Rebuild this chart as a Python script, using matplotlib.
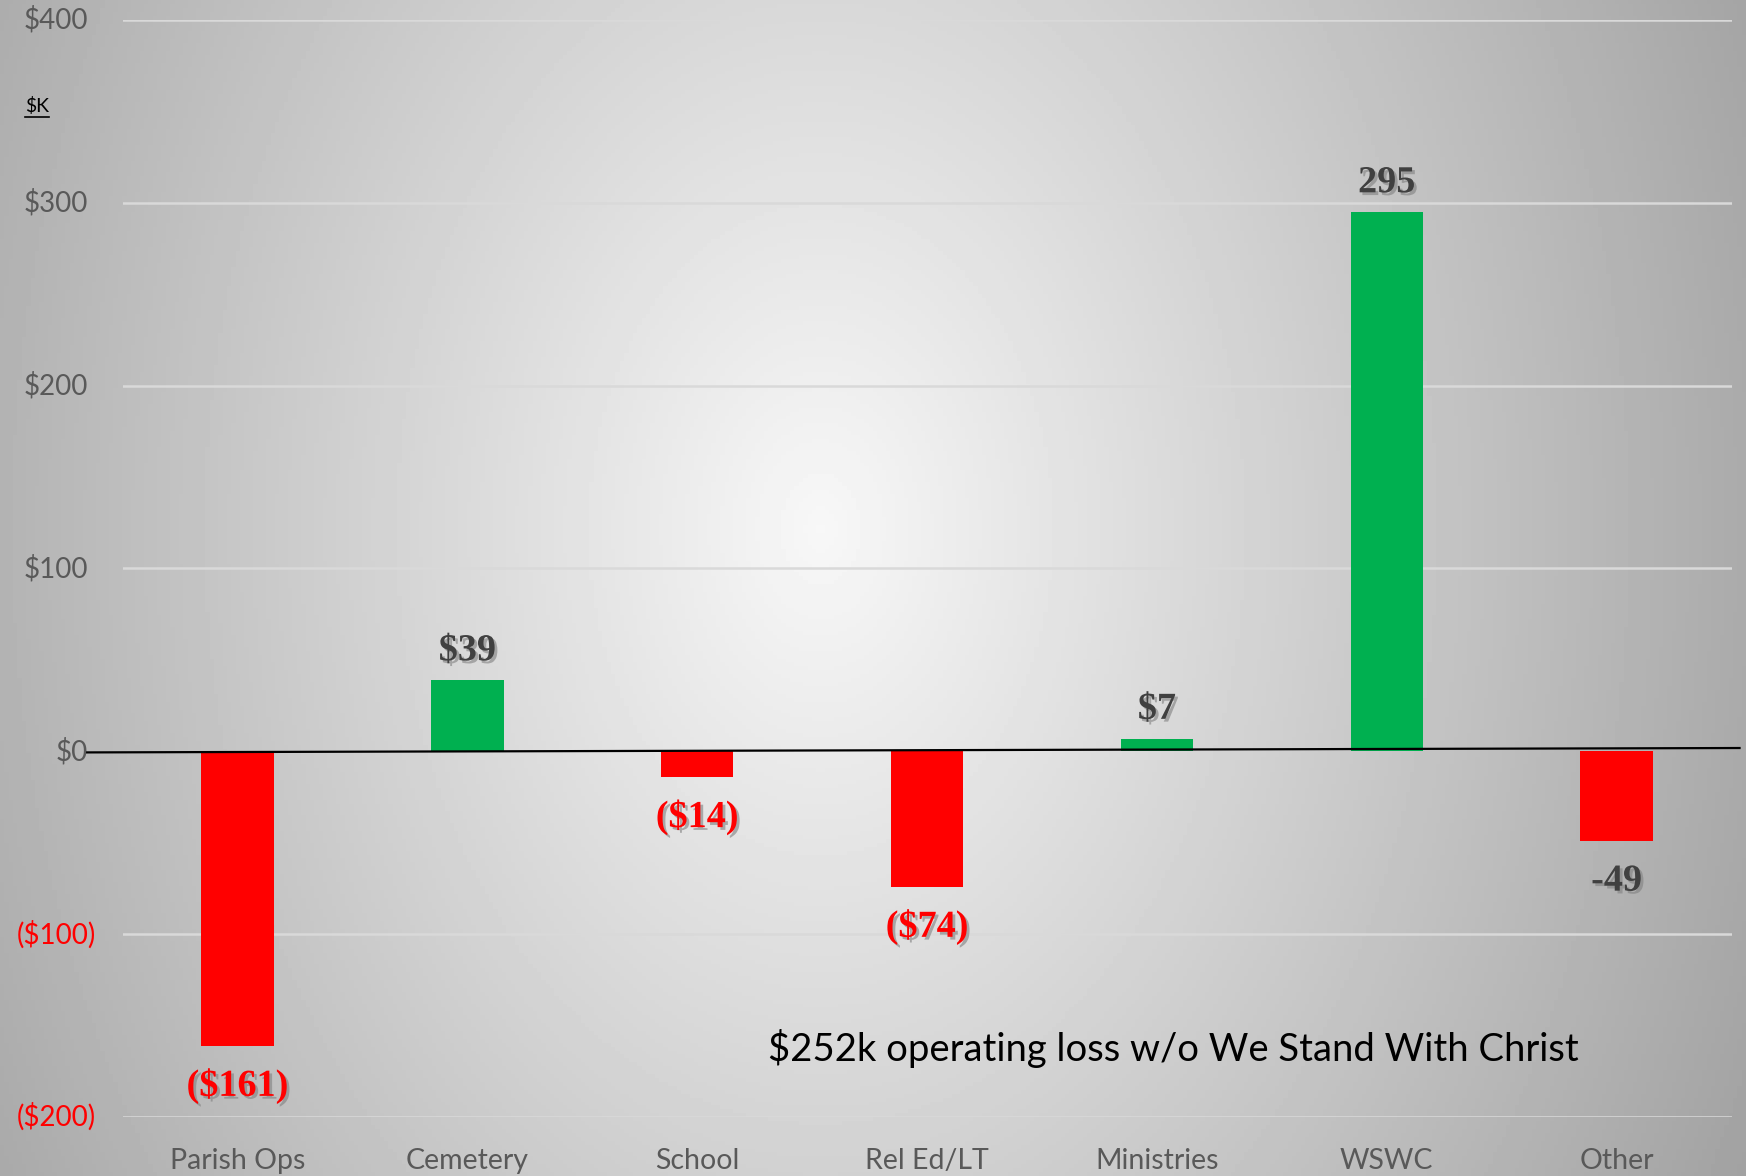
import numpy as np
import matplotlib.pyplot as plt
import matplotlib.patheffects as pe
from matplotlib.lines import Line2D

# Operating results by area ($K)
categories = ['Parish Ops', 'Cemetery', 'School', 'Rel Ed/LT', 'Ministries', 'WSWC', 'Other']
values = [-161, 39, -14, -74, 7, 295, -49]
value_labels = ['($161)', '$39', '($14)', '($74)', '$7', '295', '-49']
ytick_vals = [-200, -100, 0, 100, 200, 300, 400]
ytick_labels = ['($200)', '($100)', '$0', '$100', '$200', '$300', '$400']

GREEN = '#00B050'
RED = '#FF0000'
GRAY_TXT = '#595959'
LABEL_TXT = '#404040'

plt.rcParams['font.family'] = ['Lato', 'DejaVu Sans']

fig = plt.figure(figsize=(17.46, 11.76), dpi=100)

# radial grey background
bg = fig.add_axes([0, 0, 1, 1], zorder=-5)
xx, yy = np.meshgrid(np.linspace(0, 1, 400), np.linspace(0, 1, 300))
r = np.sqrt(((xx - 0.47) / 0.6) ** 2 + ((yy - 0.45) / 1.25) ** 2)
shade = np.clip(0.97 - 0.34 * r, 0.55, 1.0)
bg.imshow(shade, cmap='gray', vmin=0, vmax=1, aspect='auto', extent=[0, 1, 1, 0])
bg.axis('off')

ax = fig.add_axes([0.0702, 0.0502, 0.9917 - 0.0702, 0.983 - 0.0502])
ax.set_facecolor('none')

x = np.arange(len(categories))
colors = [GREEN if v >= 0 else RED for v in values]
ax.bar(x, values, width=0.315, color=colors, zorder=3)

ax.set_xlim(-0.5, 6.5)
ax.set_ylim(-200, 400)

# grid lines
for yv in ytick_vals:
    if yv != 0:
        ax.axhline(yv, color='#d9d9d9', lw=1.8, zorder=1)
ax.add_line(Line2D([-0.022, 1.005], [1 / 3 - 0.001, 1 / 3 + 0.003], transform=ax.transAxes,
                   color='black', lw=1.6, zorder=4, clip_on=False))

for s in ax.spines.values():
    s.set_visible(False)

# y labels drawn by hand so the bracketed ones sit a little further right
ax.set_yticks([])
ytrans = ax.get_yaxis_transform()
for yv, txt in zip(ytick_vals, ytick_labels):
    neg = yv < 0
    ax.annotate(txt, (0, yv), xycoords=ytrans, xytext=(-19 if neg else -25, 0),
                textcoords='offset points', ha='right', va='center', fontsize=20,
                color=RED if neg else GRAY_TXT, annotation_clip=False)

ax.set_xticks(x)
ax.set_xticklabels(categories, fontsize=20.5, color=GRAY_TXT)
ax.tick_params(axis='x', length=0, pad=22)

# value labels with shadow
shadow = [pe.withSimplePatchShadow(offset=(2, -2), shadow_rgbFace='#808080', alpha=0.6)]
for xi, v, txt in zip(x, values, value_labels):
    col = LABEL_TXT if (v >= 0 or txt.startswith('-')) else RED
    off = 21 if v >= 0 else -29
    ax.annotate(txt, (xi, v), xytext=(0, off), textcoords='offset points',
                ha='center', va='center', fontsize=27.5, fontweight='bold',
                family='Liberation Serif', color=col, path_effects=shadow, zorder=5)

# unit label
fig.text(0.0145, 0.910, '$K', fontsize=14, color='black', ha='left', va='center')
fig.add_artist(Line2D([0.0145, 0.0283], [0.9005, 0.9005], color='black', lw=1.2))

fig.text(0.44, 0.108, '$252k operating loss w/o We Stand With Christ',
         fontsize=27.5, color='black', ha='left', va='center')

fig.savefig('out.png', dpi=100)
